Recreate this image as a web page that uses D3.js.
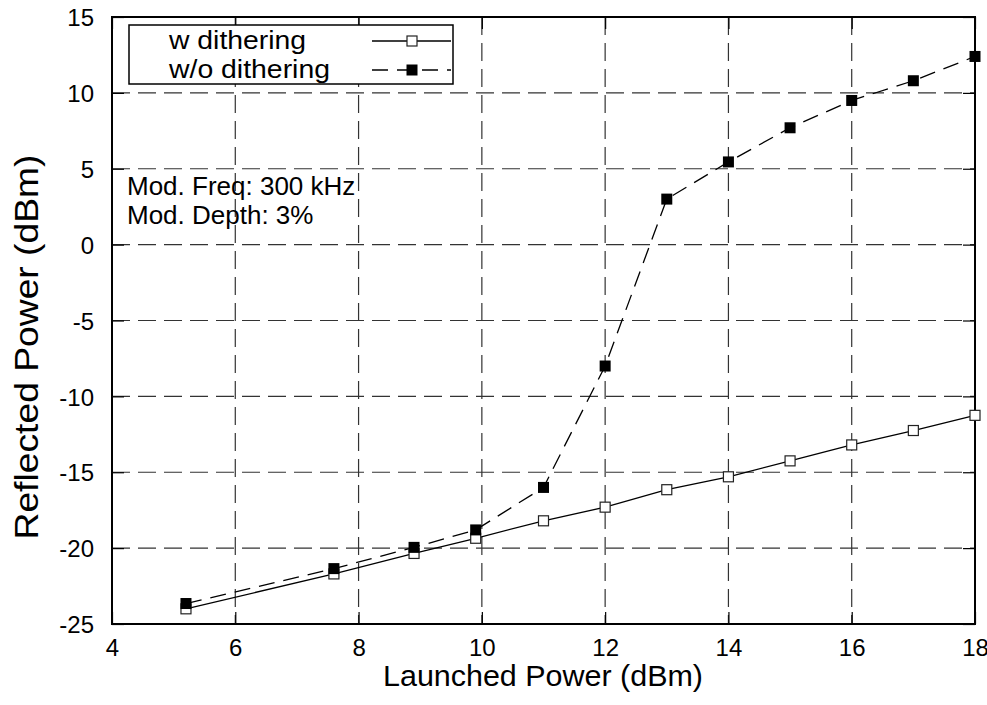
<!DOCTYPE html>
<html>
<head>
<meta charset="utf-8">
<script src="https://cdn.jsdelivr.net/npm/d3@7/dist/d3.min.js"></script>
<style>
  html, body { margin: 0; padding: 0; background: #fff; }
  svg { display: block; font-family: "Liberation Sans", Arial, Helvetica, sans-serif; }
</style>
</head>
<body>
<svg id="chart" width="987" height="705"></svg>
<script>
// Launched power (dBm) at each measurement
const launchedPower = [5.2, 7.6, 8.9, 9.9, 11, 12, 13, 14, 15, 16, 17, 18];
// Reflected power (dBm) with dithering
const withDithering = [-24.0, -21.7, -20.35, -19.35, -18.2, -17.3, -16.15, -15.3, -14.25, -13.2, -12.25, -11.25];
// Reflected power (dBm) without dithering
const withoutDithering = [-23.65, -21.35, -19.95, -18.8, -16.0, -8.0, 3.0, 5.45, 7.7, 9.5, 10.8, 12.4];

const xTicks = [4, 6, 8, 10, 12, 14, 16, 18];
const yTicks = [-25, -20, -15, -10, -5, 0, 5, 10, 15];
const seriesNames = ["w dithering", "w/o dithering"];
const annotation = ["Mod. Freq: 300 kHz", "Mod. Depth: 3%"];

const svg = d3.select("#chart");
const plotLeft = 112, plotRight = 975, plotTop = 17, plotBottom = 624;

const x = d3.scaleLinear().domain([4, 18]).range([plotLeft, plotRight]);
const y = d3.scaleLinear().domain([-25, 15]).range([plotBottom, plotTop]);

const gridColor = "#333";

// dashed grid
const grid = svg.append("g");
grid.selectAll("line.gx").data(xTicks.slice(1, -1)).join("line")
  .attr("x1", d => x(d)).attr("x2", d => x(d))
  .attr("y1", plotTop).attr("y2", plotBottom)
  .attr("stroke", gridColor).attr("stroke-width", 1.2)
  .attr("stroke-dasharray", "18,8");
grid.selectAll("line.gy").data(yTicks.slice(1, -1)).join("line")
  .attr("x1", plotLeft).attr("x2", plotRight)
  .attr("y1", d => y(d)).attr("y2", d => y(d))
  .attr("stroke", gridColor).attr("stroke-width", 1.2)
  .attr("stroke-dasharray", "18,8");

// axes with inward ticks, mirrored on top and right; plain hyphen for negatives
const tickLen = 12;
const fmt = d => String(d);
const axB = svg.append("g").attr("transform", `translate(0,${plotBottom})`)
  .call(d3.axisBottom(x).tickValues(xTicks).tickFormat(fmt).tickSizeInner(-tickLen).tickSizeOuter(0).tickPadding(15));
const axT = svg.append("g").attr("transform", `translate(0,${plotTop})`)
  .call(d3.axisTop(x).tickValues(xTicks).tickFormat("").tickSizeInner(-tickLen).tickSizeOuter(0));
const axL = svg.append("g").attr("transform", `translate(${plotLeft},0)`)
  .call(d3.axisLeft(y).tickValues(yTicks).tickFormat(fmt).tickSizeInner(-tickLen).tickSizeOuter(0).tickPadding(18));
const axR = svg.append("g").attr("transform", `translate(${plotRight},0)`)
  .call(d3.axisRight(y).tickValues(yTicks).tickFormat("").tickSizeInner(-tickLen).tickSizeOuter(0));

[axB, axT, axL, axR].forEach(a => {
  a.select(".domain").remove();
  a.selectAll(".tick line").attr("stroke", "#000").attr("stroke-width", 1.2);
  a.selectAll(".tick text").attr("fill", "#000").attr("font-size", 24)
    .attr("font-family", "'Liberation Sans', Arial, sans-serif");
});
axB.selectAll(".tick text").attr("dy", "0.71em");
axL.selectAll(".tick text").attr("dy", "0.36em");

// plot frame
svg.append("rect")
  .attr("x", plotLeft).attr("y", plotTop)
  .attr("width", plotRight - plotLeft).attr("height", plotBottom - plotTop)
  .attr("fill", "none").attr("stroke", "#000").attr("stroke-width", 2);

// axis titles
svg.append("text")
  .attr("x", (plotLeft + plotRight) / 2 - 0.5).attr("y", 686)
  .attr("text-anchor", "middle").attr("font-size", 29)
  .attr("textLength", 320).attr("lengthAdjust", "spacingAndGlyphs")
  .text("Launched Power (dBm)");
svg.append("text")
  .attr("transform", `translate(38,347) rotate(-90)`)
  .attr("text-anchor", "middle").attr("font-size", 33)
  .attr("textLength", 385).attr("lengthAdjust", "spacingAndGlyphs")
  .text("Reflected Power (dBm)");

// series lines
const line = d3.line().x(d => x(d[0])).y(d => y(d[1]));
const dataW = launchedPower.map((p, i) => [p, withDithering[i]]);
const dataWo = launchedPower.map((p, i) => [p, withoutDithering[i]]);

svg.append("path").datum(dataW).attr("d", line)
  .attr("fill", "none").attr("stroke", "#000").attr("stroke-width", 1.3);
svg.append("path").datum(dataWo).attr("d", line)
  .attr("fill", "none").attr("stroke", "#000").attr("stroke-width", 1.3)
  .attr("stroke-dasharray", "16,9");

const sq = 10;
svg.append("g").selectAll("rect").data(dataW).join("rect")
  .attr("x", d => x(d[0]) - sq / 2).attr("y", d => y(d[1]) - sq / 2)
  .attr("width", sq).attr("height", sq)
  .attr("fill", "#fff").attr("stroke", "#222").attr("stroke-width", 1.2);
svg.append("g").selectAll("rect").data(dataWo).join("rect")
  .attr("x", d => x(d[0]) - sq / 2 - 0.5).attr("y", d => y(d[1]) - sq / 2 - 0.5)
  .attr("width", sq + 1).attr("height", sq + 1)
  .attr("fill", "#000");

// legend
const lg = svg.append("g");
lg.append("rect").attr("x", 129).attr("y", 25).attr("width", 324).attr("height", 59)
  .attr("fill", "#fff").attr("stroke", "#000").attr("stroke-width", 1.5);
const legendRows = [
  { name: seriesNames[0], y: 41, tl: 137, dash: null, filled: false },
  { name: seriesNames[1], y: 70, tl: 161, dash: "16,9", filled: true }
];
legendRows.forEach(r => {
  lg.append("text").attr("x", 169).attr("y", r.y + 8)
    .attr("font-size", 26).attr("textLength", r.tl).attr("lengthAdjust", "spacingAndGlyphs")
    .text(r.name);
  lg.append("line").attr("x1", 372).attr("x2", 451).attr("y1", r.y).attr("y2", r.y)
    .attr("stroke", "#000").attr("stroke-width", 1.3)
    .attr("stroke-dasharray", r.dash);
  if (r.filled) {
    lg.append("rect").attr("x", 412 - 5.5).attr("y", r.y - 5.5).attr("width", 11).attr("height", 11).attr("fill", "#000");
  } else {
    lg.append("rect").attr("x", 412 - 5).attr("y", r.y - 5).attr("width", 10).attr("height", 10)
      .attr("fill", "#fff").attr("stroke", "#222").attr("stroke-width", 1.2);
  }
});

// modulation annotation
svg.append("g").selectAll("text").data(annotation).join("text")
  .attr("x", 127).attr("y", (d, i) => 195 + i * 29)
  .attr("font-size", 26)
  .text(d => d);
</script>
</body>
</html>
